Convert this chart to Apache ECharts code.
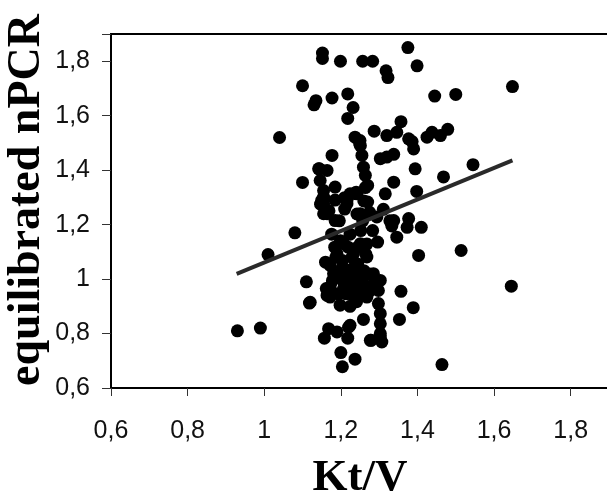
<!DOCTYPE html>
<html>
<head>
<meta charset="utf-8">
<script src="https://cdn.jsdelivr.net/npm/echarts@6/dist/echarts.min.js"></script>
<style>html,body{margin:0;padding:0;background:#fff;}#c{width:607px;height:493px;}</style>
</head>
<body>
<div id="c"></div>
<script>
// Kt/V values (x)
var ktv = [
0.93,0.99,1.01,1.04,1.08,1.10,1.10,1.11,1.12,
1.13,1.135,1.152,1.152,1.199,1.177,1.218,1.232,1.218,
1.257,1.283,1.318,1.323,1.375,1.399,1.445,1.50,1.648,
1.287,1.32,1.357,1.346,1.377,1.39,1.386,1.425,1.438,1.46,1.479,
1.545,1.468,1.394,1.398,1.41,1.403,1.514,1.645,1.464,
1.389,1.357,1.353,1.373,1.377,1.346,1.338,1.316,
1.303,1.338,1.32,1.311,1.328,1.333,1.296,1.298,1.303,1.303,1.303,1.307,1.279,1.298,1.303,1.259,
1.237,1.204,1.20,1.22,1.218,1.19,1.168,1.157,
1.241,1.224,1.198,1.172,1.164,1.162,1.118,
1.16,1.172,1.176,1.177,1.144,1.164,
1.146,1.155,1.185,1.15,1.147,1.155,1.169,1.185,1.196,1.21,1.21,1.237,1.26,1.264,1.27,1.264,1.259,1.255,1.249,1.237,1.24,1.216,1.27,
1.242,1.257,1.252,1.283,1.275,1.268,1.265,1.244,1.224,1.199,1.184,1.187,1.204,1.229,1.244,1.26,1.275,1.29,1.28,1.26,1.24,1.214,1.194,1.178,1.209,1.229,1.249,1.269,1.214,1.194,1.204,1.219,1.229,
1.155,1.216,1.251,1.294,1.338,1.185,1.164,1.207,1.251,1.19,1.233,1.268,1.181,1.216,1.251,1.285,1.172,1.207,1.251,1.277,1.233,1.268,1.224,1.277,1.303,
1.25,1.142,1.155,1.224,1.242,1.251
];
// equilibrated nPCR values (y)
var npcr = [
0.81,0.82,1.09,1.52,1.17,1.71,1.355,0.99,0.915,
1.64,1.655,1.83,1.81,1.80,1.665,1.68,1.63,1.59,
1.80,1.80,1.765,1.74,1.85,1.783,1.672,1.678,1.707,
1.543,1.527,1.578,1.539,1.515,1.478,1.505,1.521,1.539,1.527,1.55,
1.42,1.375,1.405,1.322,1.19,1.087,1.105,0.974,0.686,
0.895,0.955,0.852,1.19,1.222,1.154,1.356,1.313,
1.442,1.458,1.448,1.256,1.214,1.195,1.136,0.91,0.873,0.836,0.80,0.769,0.775,0.958,0.995,0.852,
0.706,0.678,0.73,0.823,0.783,0.806,0.818,0.783,
0.917,0.9,0.904,0.934,0.94,0.965,0.912,
1.062,1.05,1.165,1.454,1.405,1.399,
1.362,1.325,1.338,1.289,1.275,1.24,1.251,1.29,1.214,1.299,1.257,1.314,1.287,1.336,1.344,1.381,1.411,1.454,1.497,1.521,1.319,1.289,1.283,
1.239,1.214,1.178,1.178,1.245,1.129,1.092,1.117,1.165,1.141,1.117,1.08,1.068,1.08,1.055,1.031,1.019,0.994,0.97,0.982,1.007,1.019,1.007,0.994,0.982,0.97,0.952,0.946,0.946,0.946,1.043,1.117,1.037,
1.277,1.277,1.24,1.228,1.215,1.215,1.24,1.13,1.13,1.093,1.093,1.081,1.02,1.007,1.02,1.02,0.971,0.965,0.971,0.958,0.94,0.934,0.83,0.775,0.787,
1.509,1.405,1.301,1.313,1.313,1.49
];
// regression line end points
var fitX = [0.928, 1.648];
var fitY = [1.019, 1.436];
var xTicks = [0.6,0.8,1.0,1.2,1.4,1.6,1.8];
var yTicks = [0.6,0.8,1.0,1.2,1.4,1.6,1.8];

function fmt(v){
  var r = Math.round(v*10)/10;
  if (Math.abs(r-1) < 1e-9) return '1';
  return r.toFixed(1).replace('.', ',');
}
var pts = ktv.map(function(x,i){return [x, npcr[i]];});
var fit = fitX.map(function(x,i){return [x, fitY[i]];});

var chart = echarts.init(document.getElementById('c'), null, {renderer:'canvas'});
chart.setOption({
  animation:false,
  backgroundColor:'#fff',
  grid:{left:111, top:34, right:-2, bottom:105, containLabel:false, outerBoundsMode:'none',
        show:true, borderColor:'#000', borderWidth:2, backgroundColor:'transparent'},
  xAxis:{
    type:'value', min:0.6, max:1.9, interval:0.2,
    name:'Kt/V', nameLocation:'middle', nameGap:68,
    nameTextStyle:{fontFamily:'Liberation Serif', fontWeight:'bold', fontSize:45, color:'#000'},
    axisLine:{show:true, lineStyle:{color:'#000', width:2}},
    axisTick:{show:true, length:8, lineStyle:{color:'#333', width:1}},
    axisLabel:{fontFamily:'Liberation Sans', fontSize:25, color:'#111', margin:31,
      formatter:function(v){ return xTicks.some(function(t){return Math.abs(t-v)<1e-6;}) ? fmt(v) : ''; }},
    splitLine:{show:false}
  },
  yAxis:{
    type:'value', min:0.6, max:1.9, interval:0.2,
    axisLine:{show:true, lineStyle:{color:'#000', width:2}},
    axisTick:{show:true, length:9, lineStyle:{color:'#333', width:1}},
    axisLabel:{fontFamily:'Liberation Sans', fontSize:25, color:'#111', margin:21,
      formatter:function(v){ return yTicks.some(function(t){return Math.abs(t-v)<1e-6;}) ? fmt(v) : ''; }},
    splitLine:{show:false}
  },
  graphic:[{
    type:'text', rotation:Math.PI/2, x:27, y:200,
    style:{text:'equilibrated nPCR', font:'bold 46px "Liberation Serif"', fill:'#000', textAlign:'center', textVerticalAlign:'middle'}
  }],
  series:[
    {type:'scatter', data:pts, symbol:'circle', symbolSize:13, itemStyle:{color:'#000', opacity:1}, z:2},
    {type:'line', data:fit, symbol:'none', lineStyle:{color:'#2a2a2a', width:4}, z:3}
  ]
});
</script>
</body>
</html>
